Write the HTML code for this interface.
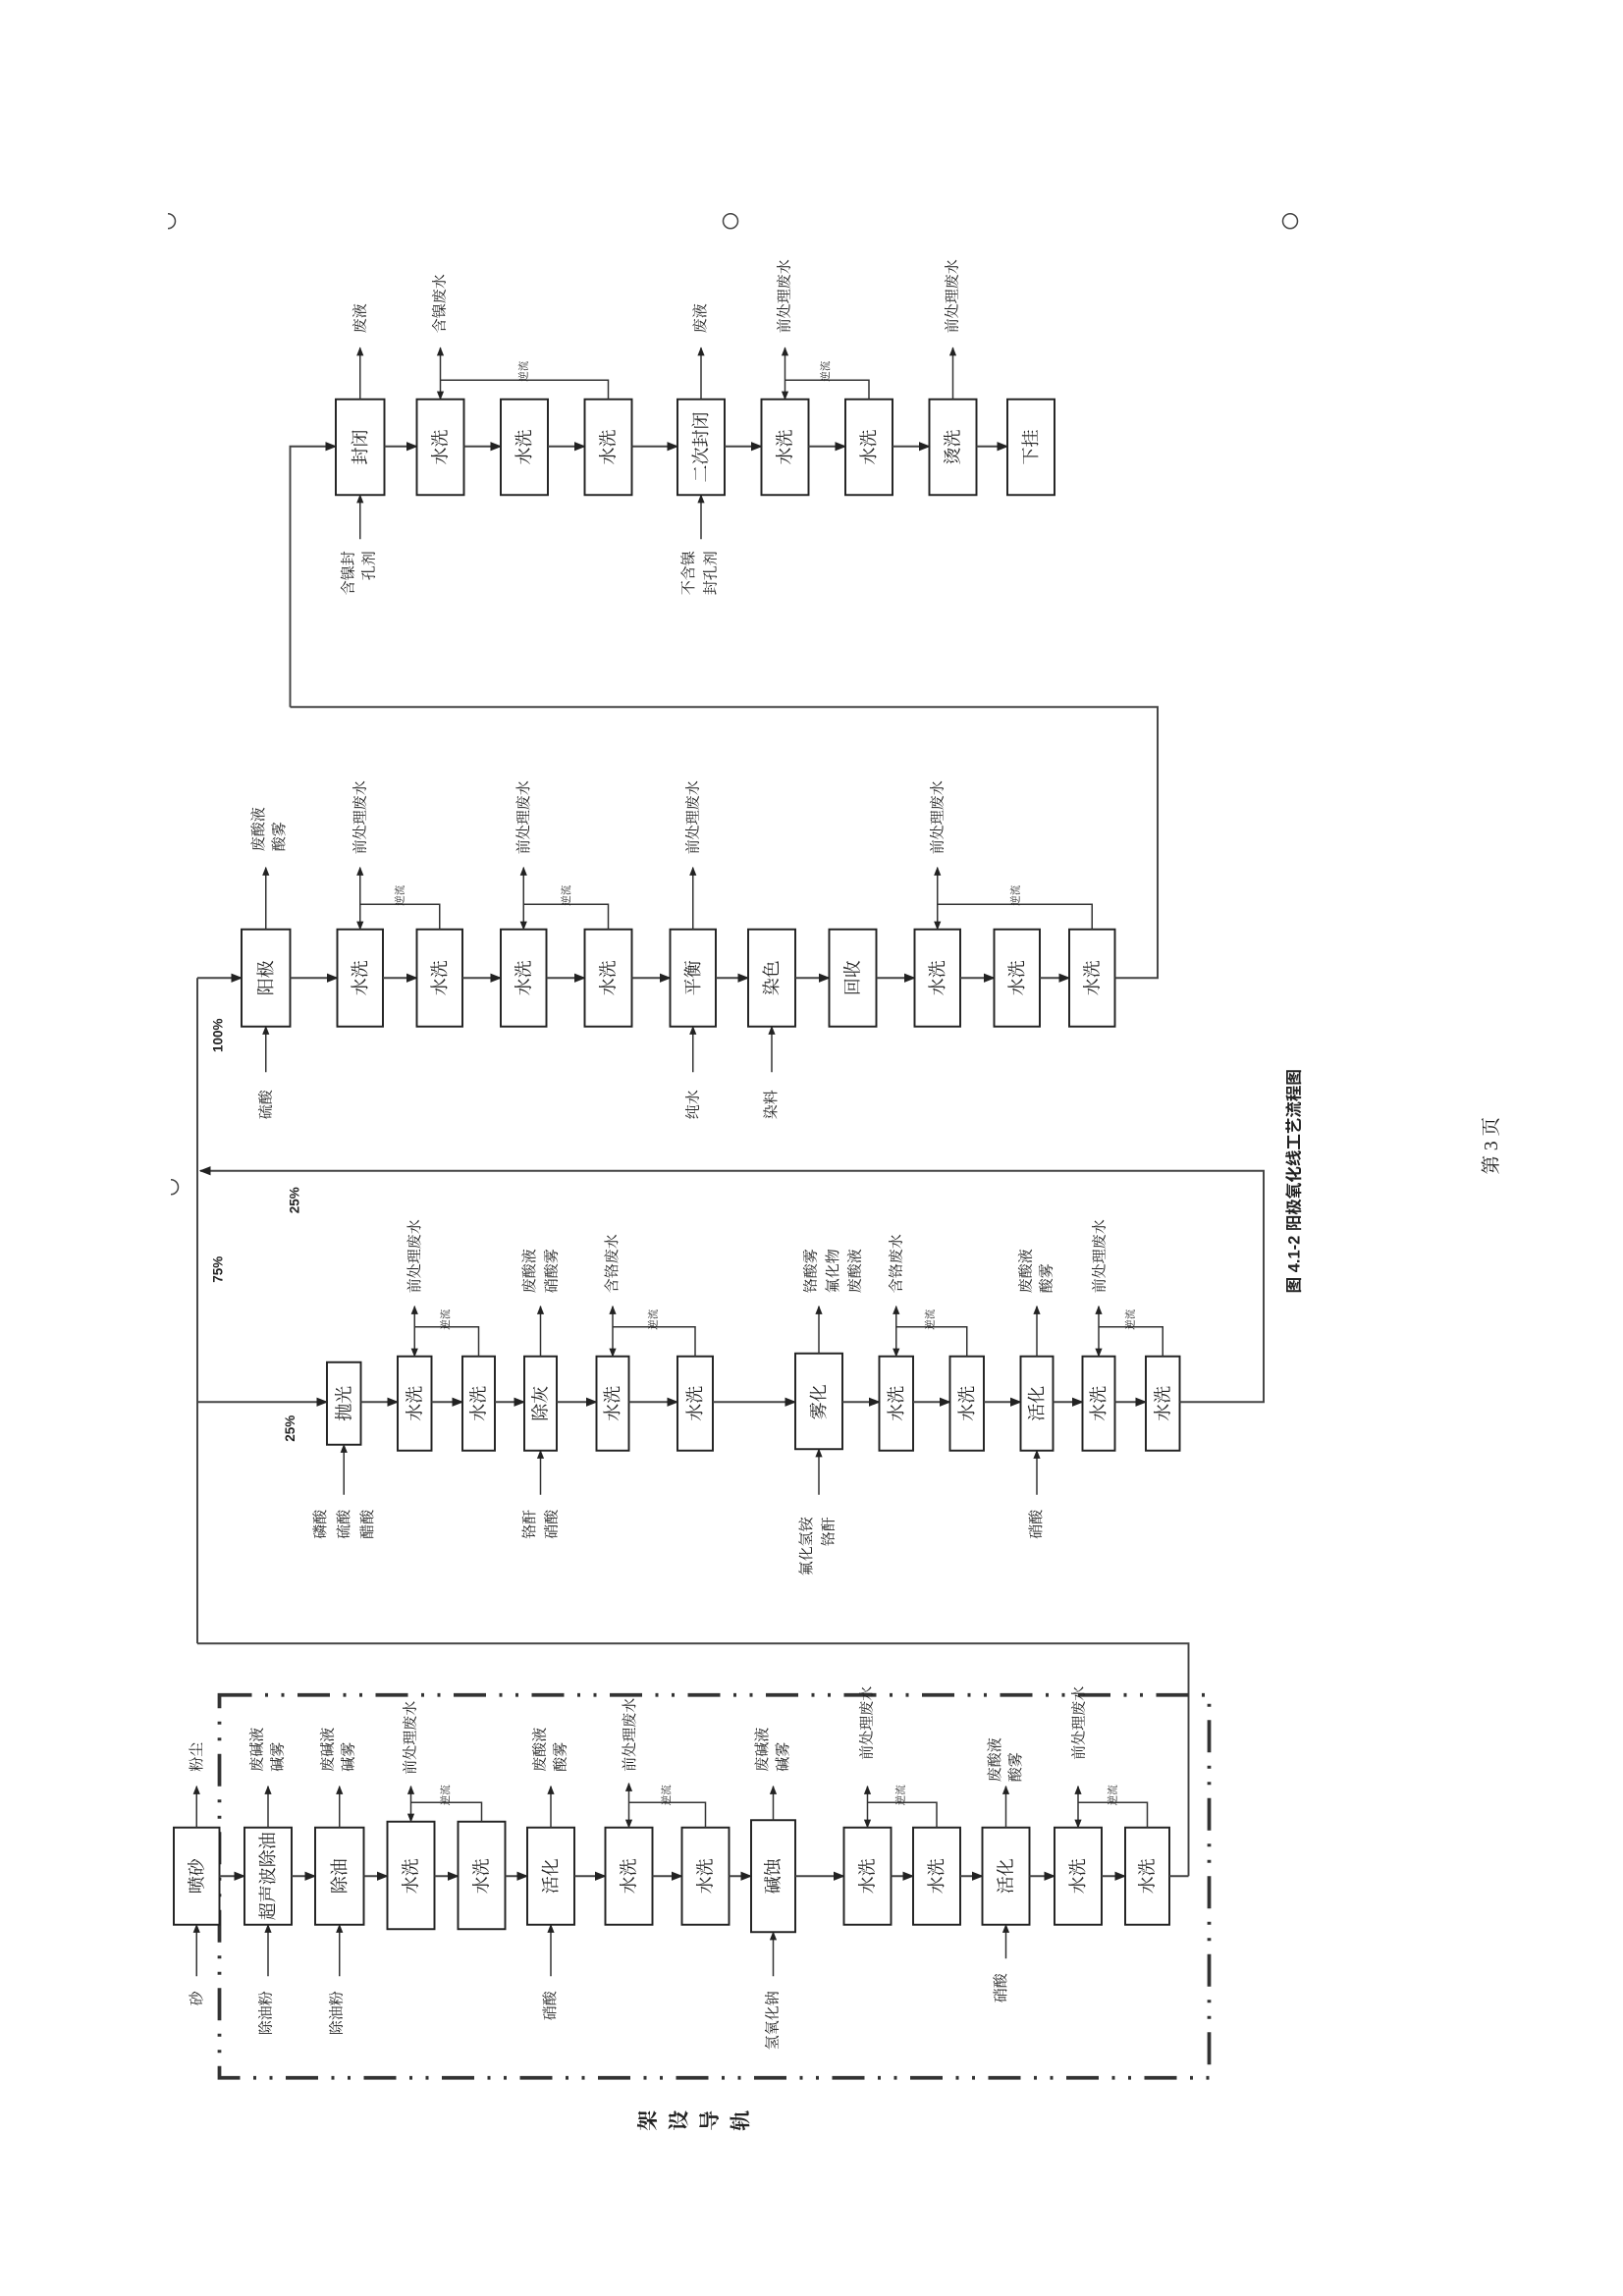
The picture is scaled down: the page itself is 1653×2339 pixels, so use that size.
<!DOCTYPE html>
<html><head><meta charset="utf-8"><style>
html,body{margin:0;padding:0;background:#fff}
svg{display:block}
text{font-family:"Liberation Serif","Noto Serif CJK SC","Noto Sans CJK SC",serif;fill:#222}
.b{font-size:12px;text-anchor:middle;dominant-baseline:central}
.u{font-size:10px;text-anchor:start;dominant-baseline:central}
.d{font-size:10px;text-anchor:end;dominant-baseline:central}
.n{font-size:7px;text-anchor:middle;dominant-baseline:central}
.p{font-family:"Liberation Sans",sans-serif;font-size:9px;font-weight:bold;text-anchor:middle;dominant-baseline:central}
rect{fill:#fff;stroke:#222;stroke-width:1.3}
.l{fill:none;stroke:#333;stroke-width:1}
.f{fill:none;stroke:#444;stroke-width:1.3}
</style></head><body>
<svg width="1653" height="2339" viewBox="0 0 1102 1559" xmlns="http://www.w3.org/2000/svg">
<defs>
<marker id="a" viewBox="0 0 10 10" refX="9" refY="5" markerWidth="6" markerHeight="6" orient="auto-start-reverse"><path d="M0,1 L10,5 L0,9 Z" fill="#222"/></marker>
</defs>

<g fill="none" stroke="#444" stroke-width="1">
<circle cx="114" cy="150" r="5"/><circle cx="496" cy="150" r="5"/><circle cx="876" cy="150" r="5"/><circle cx="116" cy="806" r="5"/>
</g>
<rect x="100" y="140" width="14" height="20" style="fill:#fff;stroke:none"/>
<rect x="100" y="796" width="16" height="20" style="fill:#fff;stroke:none"/>

<!-- ============ Section 4 ============ -->
<g>
<rect x="228" y="271" width="33" height="65"/><text class="b" transform="translate(244.5,303.5) rotate(-90)">封闭</text>
<rect x="283" y="271" width="32" height="65"/><text class="b" transform="translate(299,303.5) rotate(-90)">水洗</text>
<rect x="340" y="271" width="32" height="65"/><text class="b" transform="translate(356,303.5) rotate(-90)">水洗</text>
<rect x="397" y="271" width="32" height="65"/><text class="b" transform="translate(413,303.5) rotate(-90)">水洗</text>
<rect x="460" y="271" width="32" height="65"/><text class="b" transform="translate(476,303.5) rotate(-90)">二次封闭</text>
<rect x="517" y="271" width="32" height="65"/><text class="b" transform="translate(533,303.5) rotate(-90)">水洗</text>
<rect x="574" y="271" width="32" height="65"/><text class="b" transform="translate(590,303.5) rotate(-90)">水洗</text>
<rect x="631" y="271" width="32" height="65"/><text class="b" transform="translate(647,303.5) rotate(-90)">烫洗</text>
<rect x="684" y="271" width="32" height="65"/><text class="b" transform="translate(700,303.5) rotate(-90)">下挂</text>
<g class="f" marker-end="url(#a)" style="fill:none;stroke:#444;stroke-width:1.3">
<path d="M261,303H283"/><path d="M315,303H340"/><path d="M372,303H397"/><path d="M429,303H460"/><path d="M492,303H517"/><path d="M549,303H574"/><path d="M606,303H631"/><path d="M663,303H684"/>
<path d="M197,480V303H228"/>
</g>
<g style="fill:none;stroke:#333;stroke-width:1">
<path marker-end="url(#a)" d="M244.5,271V236"/>
<path marker-start="url(#a)" marker-end="url(#a)" d="M299,236V271"/>
<path d="M413,271V258H299"/>
<path marker-end="url(#a)" d="M476,271V236"/>
<path marker-start="url(#a)" marker-end="url(#a)" d="M533,236V271"/>
<path d="M590,271V258H533"/>
<path marker-end="url(#a)" d="M647,271V236"/>
<path marker-end="url(#a)" d="M244.5,366V336"/>
<path marker-end="url(#a)" d="M476,366V336"/>
</g>
<text class="n" transform="translate(356,252) rotate(-90)">逆流</text>
<text class="n" transform="translate(561,252) rotate(-90)">逆流</text>
<text class="u" transform="translate(245,226) rotate(-90)">废液</text>
<text class="u" transform="translate(299,226) rotate(-90)">含镍废水</text>
<text class="u" transform="translate(476,226) rotate(-90)">废液</text>
<text class="u" transform="translate(533,226) rotate(-90)">前处理废水</text>
<text class="u" transform="translate(647,226) rotate(-90)">前处理废水</text>
<text class="d" transform="translate(237,374) rotate(-90)">含镍封</text>
<text class="d" transform="translate(251,374) rotate(-90)">孔剂</text>
<text class="d" transform="translate(468,374) rotate(-90)">不含镍</text>
<text class="d" transform="translate(483,374) rotate(-90)">封孔剂</text>
</g>

<!-- ============ Section 3 ============ -->
<g>
<rect x="164" y="631" width="33" height="66"/><text class="b" transform="translate(180.5,664) rotate(-90)">阳极</text>
<rect x="229" y="631" width="31" height="66"/><text class="b" transform="translate(244.5,664) rotate(-90)">水洗</text>
<rect x="283" y="631" width="31" height="66"/><text class="b" transform="translate(298.5,664) rotate(-90)">水洗</text>
<rect x="340" y="631" width="31" height="66"/><text class="b" transform="translate(355.5,664) rotate(-90)">水洗</text>
<rect x="397" y="631" width="32" height="66"/><text class="b" transform="translate(413,664) rotate(-90)">水洗</text>
<rect x="455" y="631" width="31" height="66"/><text class="b" transform="translate(470.5,664) rotate(-90)">平衡</text>
<rect x="508" y="631" width="32" height="66"/><text class="b" transform="translate(524,664) rotate(-90)">染色</text>
<rect x="563" y="631" width="32" height="66"/><text class="b" transform="translate(579,664) rotate(-90)">回收</text>
<rect x="621" y="631" width="31" height="66"/><text class="b" transform="translate(636.5,664) rotate(-90)">水洗</text>
<rect x="675" y="631" width="31" height="66"/><text class="b" transform="translate(690.5,664) rotate(-90)">水洗</text>
<rect x="726" y="631" width="31" height="66"/><text class="b" transform="translate(741.5,664) rotate(-90)">水洗</text>
<g marker-end="url(#a)" style="fill:none;stroke:#444;stroke-width:1.3">
<path d="M134,664H164"/><path d="M197,664H229"/><path d="M260,664H283"/><path d="M314,664H340"/><path d="M371,664H397"/><path d="M429,664H455"/><path d="M486,664H508"/><path d="M540,664H563"/><path d="M595,664H621"/><path d="M652,664H675"/><path d="M706,664H726"/>
</g>
<path class="f" d="M757,664H786V480H197"/>
<g style="fill:none;stroke:#333;stroke-width:1">
<path marker-end="url(#a)" d="M180.5,631V589"/>
<path marker-end="url(#a)" d="M470.5,631V589"/>
<path marker-start="url(#a)" marker-end="url(#a)" d="M244.5,589V631"/>
<path marker-start="url(#a)" marker-end="url(#a)" d="M355.5,589V631"/>
<path marker-start="url(#a)" marker-end="url(#a)" d="M636.5,589V631"/>
<path d="M298.5,631V614H244.5"/><path d="M413,631V614H355.5"/><path d="M741.5,631V614H636.5"/>
<path marker-end="url(#a)" d="M180.5,728V697"/>
<path marker-end="url(#a)" d="M470.5,728V697"/>
<path marker-end="url(#a)" d="M524,728V697"/>
</g>
<text class="n" transform="translate(272,608) rotate(-90)">逆流</text>
<text class="n" transform="translate(385,608) rotate(-90)">逆流</text>
<text class="n" transform="translate(690,608) rotate(-90)">逆流</text>
<text class="u" transform="translate(176,578) rotate(-90)">废酸液</text>
<text class="u" transform="translate(190,578) rotate(-90)">酸雾</text>
<text class="u" transform="translate(245,580) rotate(-90)">前处理废水</text>
<text class="u" transform="translate(356,580) rotate(-90)">前处理废水</text>
<text class="u" transform="translate(471,580) rotate(-90)">前处理废水</text>
<text class="u" transform="translate(637,580) rotate(-90)">前处理废水</text>
<text class="d" transform="translate(181,740) rotate(-90)">硫酸</text>
<text class="d" transform="translate(471,740) rotate(-90)">纯水</text>
<text class="d" transform="translate(524,740) rotate(-90)">染料</text>
<text class="p" transform="translate(148,703) rotate(-90)">100%</text>
</g>

<path class="f" d="M134,1116V664"/>
<path class="f" d="M807,1274V1116H134"/>
<text class="p" transform="translate(148,862) rotate(-90)">75%</text>
<text class="p" transform="translate(200,815) rotate(-90)">25%</text>
<text class="p" transform="translate(197,970) rotate(-90)">25%</text>

<!-- ============ Section 2 ============ -->
<g>
<rect x="222" y="925" width="23" height="56"/><text class="b" transform="translate(233.5,953) rotate(-90)">抛光</text>
<rect x="270" y="921" width="23" height="64"/><text class="b" transform="translate(281.5,953) rotate(-90)">水洗</text>
<rect x="314" y="921" width="22" height="64"/><text class="b" transform="translate(325,953) rotate(-90)">水洗</text>
<rect x="356" y="921" width="22" height="64"/><text class="b" transform="translate(367,953) rotate(-90)">除灰</text>
<rect x="405" y="921" width="22" height="64"/><text class="b" transform="translate(416,953) rotate(-90)">水洗</text>
<rect x="460" y="921" width="24" height="64"/><text class="b" transform="translate(472,953) rotate(-90)">水洗</text>
<rect x="540" y="919" width="32" height="65"/><text class="b" transform="translate(556,952) rotate(-90)">雾化</text>
<rect x="597" y="921" width="23" height="64"/><text class="b" transform="translate(608.5,953) rotate(-90)">水洗</text>
<rect x="645" y="921" width="23" height="64"/><text class="b" transform="translate(656.5,953) rotate(-90)">水洗</text>
<rect x="693" y="921" width="22" height="64"/><text class="b" transform="translate(704,953) rotate(-90)">活化</text>
<rect x="735" y="921" width="22" height="64"/><text class="b" transform="translate(746,953) rotate(-90)">水洗</text>
<rect x="778" y="921" width="23" height="64"/><text class="b" transform="translate(789.5,953) rotate(-90)">水洗</text>
<g marker-end="url(#a)" style="fill:none;stroke:#444;stroke-width:1.3">
<path d="M134,952H222"/><path d="M245,952H270"/><path d="M293,952H314"/><path d="M336,952H356"/><path d="M378,952H405"/><path d="M427,952H460"/><path d="M484,952H540"/><path d="M572,952H597"/><path d="M620,952H645"/><path d="M668,952H693"/><path d="M715,952H735"/><path d="M757,952H778"/>
<path d="M801,952H858V795H136"/>
</g>
<g style="fill:none;stroke:#333;stroke-width:1">
<path marker-end="url(#a)" d="M367,921V887"/>
<path marker-end="url(#a)" d="M556,919V887"/>
<path marker-end="url(#a)" d="M704,921V887"/>
<path marker-start="url(#a)" marker-end="url(#a)" d="M281.5,887V921"/>
<path marker-start="url(#a)" marker-end="url(#a)" d="M416,887V921"/>
<path marker-start="url(#a)" marker-end="url(#a)" d="M608.5,887V921"/>
<path marker-start="url(#a)" marker-end="url(#a)" d="M746,887V921"/>
<path d="M325,921V901H281.5"/><path d="M472,921V901H416"/><path d="M656.5,921V901H608.5"/><path d="M789.5,921V901H746"/>
<path marker-end="url(#a)" d="M233.5,1015V981"/>
<path marker-end="url(#a)" d="M367,1015V985"/>
<path marker-end="url(#a)" d="M556,1015V984"/>
<path marker-end="url(#a)" d="M704,1015V985"/>
</g>
<text class="n" transform="translate(303,896) rotate(-90)">逆流</text>
<text class="n" transform="translate(444,896) rotate(-90)">逆流</text>
<text class="n" transform="translate(632,896) rotate(-90)">逆流</text>
<text class="n" transform="translate(768,896) rotate(-90)">逆流</text>
<text class="u" transform="translate(282,878) rotate(-90)">前处理废水</text>
<text class="u" transform="translate(360,878) rotate(-90)">废酸液</text>
<text class="u" transform="translate(375,878) rotate(-90)">硝酸雾</text>
<text class="u" transform="translate(416,878) rotate(-90)">含铬废水</text>
<text class="u" transform="translate(551,878) rotate(-90)">铬酸雾</text>
<text class="u" transform="translate(566,878) rotate(-90)">氟化物</text>
<text class="u" transform="translate(581,878) rotate(-90)">废酸液</text>
<text class="u" transform="translate(609,878) rotate(-90)">含铬废水</text>
<text class="u" transform="translate(697,878) rotate(-90)">废酸液</text>
<text class="u" transform="translate(711,878) rotate(-90)">酸雾</text>
<text class="u" transform="translate(747,878) rotate(-90)">前处理废水</text>
<text class="d" transform="translate(218,1025) rotate(-90)">磷酸</text>
<text class="d" transform="translate(234,1025) rotate(-90)">硫酸</text>
<text class="d" transform="translate(250,1025) rotate(-90)">醋酸</text>
<text class="d" transform="translate(360,1025) rotate(-90)">铬酐</text>
<text class="d" transform="translate(375,1025) rotate(-90)">硝酸</text>
<text class="d" transform="translate(548,1030) rotate(-90)">氟化氢铵</text>
<text class="d" transform="translate(563,1030) rotate(-90)">铬酐</text>
<text class="d" transform="translate(704,1025) rotate(-90)">硝酸</text>
</g>

<!-- ============ Section 1 ============ -->
<g>
<rect x="149" y="1151" width="672" height="260" style="fill:none;stroke:#333;stroke-width:2.5;stroke-dasharray:22 9 2 9 2 9"/>
<rect x="118" y="1241" width="31" height="66"/><text class="b" transform="translate(133.5,1274) rotate(-90)">喷砂</text>
<rect x="166" y="1241" width="32" height="66"/><text class="b" transform="translate(182,1274) rotate(-90)">超声波除油</text>
<rect x="214" y="1241" width="33" height="66"/><text class="b" transform="translate(230.5,1274) rotate(-90)">除油</text>
<rect x="263" y="1237" width="32" height="73"/><text class="b" transform="translate(279,1274) rotate(-90)">水洗</text>
<rect x="311" y="1237" width="32" height="73"/><text class="b" transform="translate(327,1274) rotate(-90)">水洗</text>
<rect x="358" y="1241" width="32" height="66"/><text class="b" transform="translate(374,1274) rotate(-90)">活化</text>
<rect x="411" y="1241" width="32" height="66"/><text class="b" transform="translate(427,1274) rotate(-90)">水洗</text>
<rect x="463" y="1241" width="32" height="66"/><text class="b" transform="translate(479,1274) rotate(-90)">水洗</text>
<rect x="510" y="1236" width="30" height="76"/><text class="b" transform="translate(525,1274) rotate(-90)">碱蚀</text>
<rect x="573" y="1241" width="32" height="66"/><text class="b" transform="translate(589,1274) rotate(-90)">水洗</text>
<rect x="620" y="1241" width="32" height="66"/><text class="b" transform="translate(636,1274) rotate(-90)">水洗</text>
<rect x="667" y="1241" width="32" height="66"/><text class="b" transform="translate(683,1274) rotate(-90)">活化</text>
<rect x="716" y="1241" width="32" height="66"/><text class="b" transform="translate(732,1274) rotate(-90)">水洗</text>
<rect x="764" y="1241" width="30" height="66"/><text class="b" transform="translate(779,1274) rotate(-90)">水洗</text>
<g marker-end="url(#a)" style="fill:none;stroke:#444;stroke-width:1.3">
<path d="M149,1274H166"/><path d="M198,1274H214"/><path d="M247,1274H263"/><path d="M295,1274H311"/><path d="M343,1274H358"/><path d="M390,1274H411"/><path d="M443,1274H463"/><path d="M495,1274H510"/><path d="M540,1274H573"/><path d="M605,1274H620"/><path d="M652,1274H667"/><path d="M699,1274H716"/><path d="M748,1274H764"/>
</g>
<path class="f" d="M794,1274H807"/>
<g style="fill:none;stroke:#333;stroke-width:1">
<path marker-end="url(#a)" d="M133.5,1241V1213"/>
<path marker-end="url(#a)" d="M182,1241V1213"/>
<path marker-end="url(#a)" d="M230.5,1241V1213"/>
<path marker-end="url(#a)" d="M374,1241V1213"/>
<path marker-end="url(#a)" d="M525,1236V1213"/>
<path marker-end="url(#a)" d="M683,1241V1213"/>
<path marker-start="url(#a)" marker-end="url(#a)" d="M279,1213V1237"/>
<path marker-start="url(#a)" marker-end="url(#a)" d="M427,1211V1241"/>
<path marker-start="url(#a)" marker-end="url(#a)" d="M589,1213V1241"/>
<path marker-start="url(#a)" marker-end="url(#a)" d="M732,1213V1241"/>
<path d="M327,1237V1224H279"/><path d="M479,1241V1224H427"/><path d="M636,1241V1224H589"/><path d="M779,1241V1224H732"/>
<path marker-end="url(#a)" d="M133.5,1342V1307"/>
<path marker-end="url(#a)" d="M182,1342V1307"/>
<path marker-end="url(#a)" d="M230.5,1342V1307"/>
<path marker-end="url(#a)" d="M374,1342V1307"/>
<path marker-end="url(#a)" d="M525,1342V1312"/>
<path marker-end="url(#a)" d="M683,1330V1307"/>
</g>
<text class="n" transform="translate(303,1219) rotate(-90)">逆流</text>
<text class="n" transform="translate(453,1219) rotate(-90)">逆流</text>
<text class="n" transform="translate(612,1219) rotate(-90)">逆流</text>
<text class="n" transform="translate(756,1219) rotate(-90)">逆流</text>
<text class="u" transform="translate(134,1203) rotate(-90)">粉尘</text>
<text class="u" transform="translate(175,1203) rotate(-90)">废碱液</text>
<text class="u" transform="translate(189,1203) rotate(-90)">碱雾</text>
<text class="u" transform="translate(223,1203) rotate(-90)">废碱液</text>
<text class="u" transform="translate(237,1203) rotate(-90)">碱雾</text>
<text class="u" transform="translate(279,1205) rotate(-90)">前处理废水</text>
<text class="u" transform="translate(367,1203) rotate(-90)">废酸液</text>
<text class="u" transform="translate(381,1203) rotate(-90)">酸雾</text>
<text class="u" transform="translate(428,1203) rotate(-90)">前处理废水</text>
<text class="u" transform="translate(518,1203) rotate(-90)">废碱液</text>
<text class="u" transform="translate(532,1203) rotate(-90)">碱雾</text>
<text class="u" transform="translate(589,1195) rotate(-90)">前处理废水</text>
<text class="u" transform="translate(676,1210) rotate(-90)">废酸液</text>
<text class="u" transform="translate(690,1210) rotate(-90)">酸雾</text>
<text class="u" transform="translate(733,1195) rotate(-90)">前处理废水</text>
<text class="d" transform="translate(134,1352) rotate(-90)">砂</text>
<text class="d" transform="translate(181,1352) rotate(-90)">除油粉</text>
<text class="d" transform="translate(229,1352) rotate(-90)">除油粉</text>
<text class="d" transform="translate(374,1352) rotate(-90)">硝酸</text>
<text class="d" transform="translate(525,1352) rotate(-90)">氢氧化钠</text>
<text class="d" transform="translate(680,1340) rotate(-90)">硝酸</text>
<text class="b" style="font-size:14px;font-weight:bold" transform="translate(440,1440) rotate(-90)">架</text>
<text class="b" style="font-size:14px;font-weight:bold" transform="translate(461,1440) rotate(-90)">设</text>
<text class="b" style="font-size:14px;font-weight:bold" transform="translate(482,1440) rotate(-90)">导</text>
<text class="b" style="font-size:14px;font-weight:bold" transform="translate(503,1440) rotate(-90)">轨</text>
</g>

<text class="b" style="font-size:11px;font-weight:bold;font-family:'Liberation Sans','Noto Sans CJK SC',sans-serif" transform="translate(879,802) rotate(-90)">图 4.1-2 阳极氧化线工艺流程图</text>
<text class="b" style="font-size:13px" transform="translate(1013,778) rotate(-90)">第 3 页</text>
</svg>
</body></html>
